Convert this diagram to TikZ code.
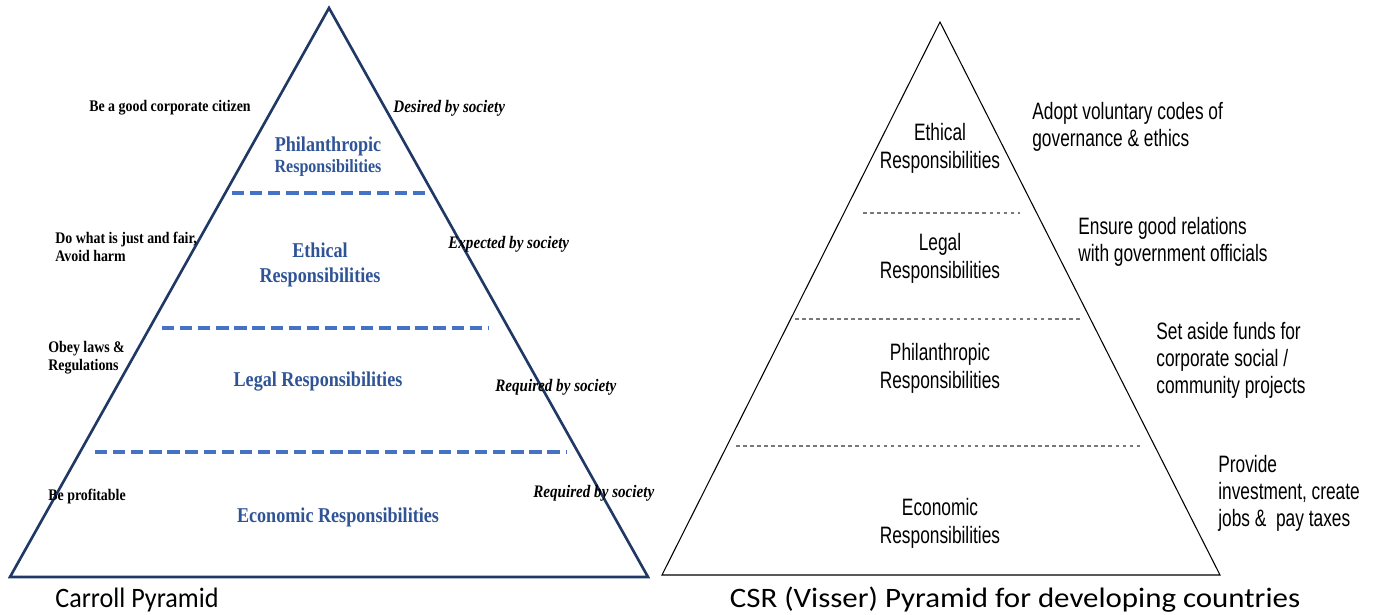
\documentclass[tikz,border=0pt]{standalone}
\usepackage{fontspec}
\usepackage{xcolor}
\usepackage{tikz}
\usetikzlibrary{positioning}

\newfontfamily\carrollfont[FakeStretch=0.86]{Liberation Serif}
\newfontfamily\visserfont[FakeStretch=0.73]{Liberation Sans}
\newfontfamily\captionfont[FakeStretch=0.93]{Carlito}
\newfontfamily\widecaptionfont[FakeStretch=1.1]{Carlito}

\definecolor{pyrnavy}{RGB}{31,56,100}
\definecolor{layerblue}{RGB}{47,84,150}
\definecolor{dashblue}{RGB}{68,114,196}
\definecolor{dotgray}{RGB}{120,120,120}

\tikzset{
    duty/.style={font=\carrollfont\bfseries\fontsize{9.2}{10.2}\selectfont, inner sep=0pt, align=left},
    society/.style={font=\carrollfont\bfseries\itshape\fontsize{10}{12}\selectfont, inner sep=0pt, anchor=west},
    layer/.style={font=\carrollfont\bfseries\fontsize{12}{14}\selectfont, text=layerblue, inner sep=0pt, align=center},
    layerline/.style={dashblue, line width=2.3pt, dash pattern=on 7pt off 3.3pt},
    vlayer/.style={font=\visserfont\fontsize{13.5}{15.9}\selectfont, inner sep=0pt, align=center},
    vnote/.style={font=\visserfont\fontsize{13.5}{15.4}\selectfont, inner sep=0pt, align=left, anchor=west},
    vline/.style={dotgray, line width=0.9pt, dash pattern=on 2pt off 2pt},
    pyrcaption/.style={font=\captionfont\fontsize{16}{18}\selectfont, inner sep=0pt}
}

\begin{document}
\begin{tikzpicture}[x=0.02cm, y=-0.02cm]
    \useasboundingbox (0,0) rectangle (1373,615);

    % Carroll pyramid
    \draw[pyrnavy, line width=1.5pt, line join=miter] (329,8) -- (648,577) -- (10,577) -- cycle;
    \draw[layerline] (232,193) -- (428,193);
    \draw[layerline] (162,328) -- (489,328);
    \draw[layerline] (95,452) -- (566,452);

    \node[layer] (philA) at (328,146) {Philanthropic};
    \node[layer, font=\carrollfont\bfseries\fontsize{10.6}{12}\selectfont] (philB) at (328,168) {Responsibilities};
    \node[layer] (ethic) at (320,265) {Ethical\\Responsibilities};
    \node[layer] (legal) at (318,382) {Legal Responsibilities};
    \node[layer] (econ) at (338,517) {Economic Responsibilities};

    \node[duty] (citizen) at (170,108) {Be a good corporate citizen};
    \node[duty, anchor=west] (fair) at (55,247) {Do what is just and fair,\\Avoid harm};
    \node[duty, anchor=west] (laws) at (48,358) {Obey laws \&\\Regulations};
    \node[duty, anchor=west] (profit) at (48,497) {Be profitable};

    \node[society] (desired) at (393,108) {Desired by society};
    \node[society] (expected) at (448,244) {Expected by society};
    \node[society] (reqlegal) at (495,387) {Required by society};
    \node[society] (reqecon) at (533,493) {Required by society};

    \node[pyrcaption, anchor=west] (carroll) at (55,600) {Carroll Pyramid};

    % Visser pyramid
    \draw[black, line width=0.6pt] (940,22) -- (1220,575) -- (662,575) -- cycle;
    \draw[vline] (863,213) -- (1020,213);
    \draw[vline] (795,319) -- (1080,319);
    \draw[vline] (736,446) -- (1143,446);

    \node[vlayer] (vethic) at (940,148) {Ethical\\Responsibilities};
    \node[vlayer] (vlegal) at (940,258) {Legal\\Responsibilities};
    \node[vlayer] (vphil) at (940,368) {Philanthropic\\Responsibilities};
    \node[vlayer] (vecon) at (940,523) {Economic\\Responsibilities};

    \node[vnote] (codes) at (1032,127) {Adopt voluntary codes of\\governance \& ethics};
    \node[vnote] (relations) at (1078,242) {Ensure good relations\\with government officials};
    \node[vnote] (funds) at (1156,360) {Set aside funds for\\corporate social /\\community projects};
    \node[vnote] (invest) at (1218,493) {Provide\\investment, create\\jobs \&\ \ pay taxes};

    \node[pyrcaption, font=\widecaptionfont\fontsize{16}{18}\selectfont] (visser) at (1015,600) {CSR (Visser) Pyramid for developing countries};
\end{tikzpicture}
\end{document}
